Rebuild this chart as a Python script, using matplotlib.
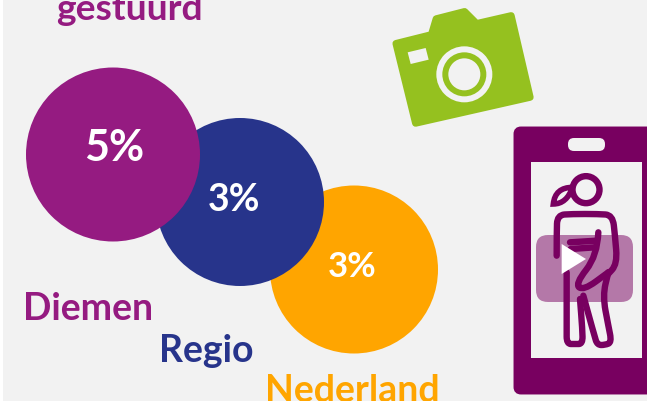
import matplotlib
matplotlib.use('Agg')
import matplotlib.pyplot as plt
from matplotlib.patches import Circle, Polygon, FancyBboxPatch, Rectangle, PathPatch
from matplotlib.path import Path

plt.rcParams['font.family'] = ['Lato', 'DejaVu Sans']

labels = ['Diemen', 'Regio', 'Nederland']
percent = ['5%', '3%', '3%']
colors = ['#951b81', '#27348b', '#ffa500']
centers = [(113, 155.5), (240, 203), (354, 270.5)]
radius = [87, 84, 84]
label_pos = [(23, 309), (159, 351), (265, 391)]
pct_pos = [(114, 148), (234, 200), (352, 267)]
pct_size = [31, 27, 25]

PHONE = '#780060'
LIME = '#95c11f'
BG = '#f2f2f2'

fig = plt.figure(figsize=(6.47, 4.02), dpi=100, facecolor='white')
ax = fig.add_axes([0, 0, 1, 1])
ax.set_xlim(0, 647)
ax.set_ylim(402, 0)
ax.axis('off')
ax.add_patch(Rectangle((3, 0), 644, 402, color=BG, lw=0))

ax.text(56, 10, 'gestuurd', color=colors[0], fontsize=26.8, fontweight='bold', va='center', ha='left')

# bubbles, first one on top
for i in [2, 1, 0]:
    ax.add_patch(Circle(centers[i], radius[i], color=colors[i], lw=0, zorder=2 + (2 - i)))
    ax.text(pct_pos[i][0], pct_pos[i][1], percent[i], color='white', fontsize=pct_size[i],
            fontweight='bold', ha='center', va='center', zorder=6)
    ax.text(label_pos[i][0], label_pos[i][1], labels[i], color=colors[i], fontsize=27,
            fontweight='bold', ha='left', va='center', zorder=6)


# camera, coords from the 3x crop
def cam(x, y):
    return (380 + x / 3, y / 3)


body = [(38, 133), (150, 105), (165, 55), (255, 32), (293, 70), (402, 45), (462, 303), (100, 385)]
pts = [cam(*p) for p in body]
cx = sum(p[0] for p in pts) / len(pts)
cy = sum(p[1] for p in pts) / len(pts)
pts = [(cx + (x - cx) * 0.95, cy + (y - cy) * 0.95) for x, y in pts]
ax.add_patch(Polygon(pts, closed=True, fc=LIME, ec=LIME, lw=5, joinstyle='round'))
ax.add_patch(Polygon([cam(*p) for p in [(83, 160), (137, 147), (146, 182), (92, 195)]], color=BG, lw=0))
ax.add_patch(Circle(cam(253, 226), 28, color=BG, lw=0))
ax.add_patch(Circle(cam(253, 226), 22, color=LIME, lw=0))
ax.add_patch(Circle(cam(253, 226), 16, color=BG, lw=0))


# phone, coords from the 3x crop
def ph(x, y):
    return (500 + x / 3, 110 + y / 3)


def smooth(points):
    # rounds the corners of a polyline
    p = [ph(*q) for q in points]
    verts = [p[0]]
    codes = [Path.MOVETO]
    for a, b in zip(p[1:-1], p[2:]):
        mid = ((a[0] + b[0]) / 2, (a[1] + b[1]) / 2)
        verts += [a, mid]
        codes += [Path.CURVE3, Path.CURVE3]
    verts.append(p[-1])
    codes.append(Path.LINETO)
    return Path(verts, codes)


ax.add_patch(FancyBboxPatch((517, 131), 140, 261, boxstyle='round,pad=0,rounding_size=1',
                            mutation_scale=4, fc=PHONE, ec=PHONE, lw=5))
ax.add_patch(Rectangle((531, 163), 111, 196, color=BG, lw=0))
ax.add_patch(FancyBboxPatch((574, 145), 25, 1, boxstyle='round,pad=6', fc=BG, ec='none'))

lines = [
    [(170, 440), (170, 370), (172, 318), (215, 315), (295, 315), (338, 318), (345, 380), (352, 465), (320, 500)],
    [(200, 490), (200, 660), (200, 705), (225, 705), (248, 705), (247, 660), (240, 570)],
    [(250, 560), (283, 680), (292, 708), (315, 708), (335, 700), (325, 650), (308, 560), (325, 490)],
    [(210, 400), (290, 395)],
    [(295, 370), (292, 440), (225, 525), (250, 545), (325, 490)],
    [(212, 420), (285, 415)],
]
for ln in lines:
    ax.add_patch(PathPatch(smooth(ln), fc='none', ec=PHONE, lw=4.6, capstyle='round',
                           joinstyle='round', zorder=3))
ax.add_patch(Circle(ph(258, 242), 13.5, fc='none', ec=PHONE, lw=4.6, zorder=3))
pony = Path([ph(218, 235), ph(165, 235), ph(160, 285), ph(200, 285), ph(218, 235)],
            [Path.MOVETO, Path.CURVE3, Path.CURVE3, Path.CURVE3, Path.CURVE3])
ax.add_patch(PathPatch(pony, fc='none', ec=PHONE, lw=4, zorder=3))

ax.add_patch(FancyBboxPatch((548, 248), 73, 43, boxstyle='round,pad=12', fc=PHONE, ec='none',
                            alpha=0.5, zorder=4))
ax.add_patch(Polygon([ph(185, 405), ph(185, 495), ph(258, 450)], color='white', lw=0, zorder=5))

fig.savefig('out.png', dpi=100)
